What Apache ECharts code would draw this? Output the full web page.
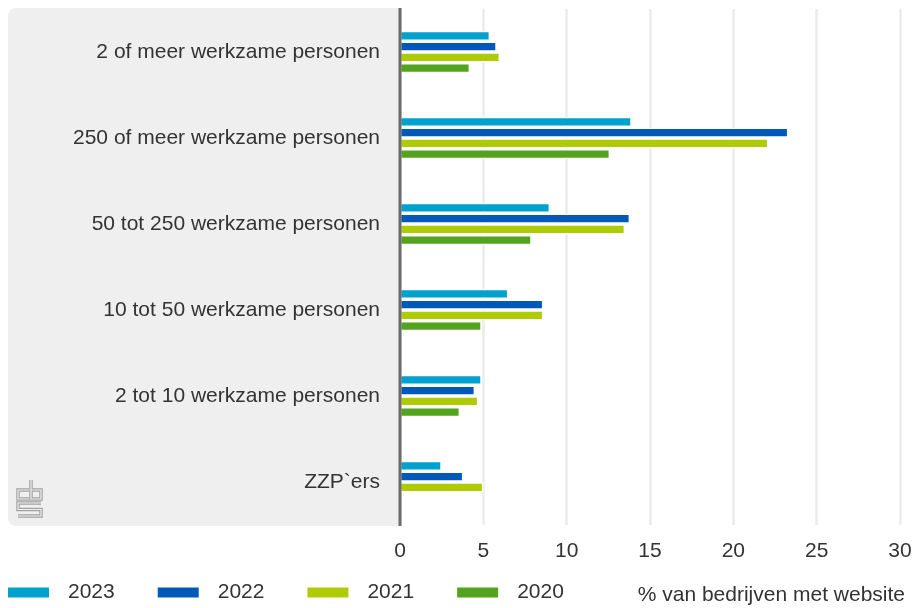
<!DOCTYPE html>
<html>
<head>
<meta charset="utf-8">
<script src="https://cdn.jsdelivr.net/npm/echarts@6/dist/echarts.min.js"></script>
<style>html,body{margin:0;padding:0;background:#fff}#c{width:917px;height:608px}</style>
</head>
<body>
<div id="c"></div>
<script>
var categories = ["2 of meer werkzame personen", "250 of meer werkzame personen", "50 tot 250 werkzame personen", "10 tot 50 werkzame personen", "2 tot 10 werkzame personen", "ZZP`ers"];
var seriesNames = ["2023", "2022", "2021", "2020"];
var v2023 = [5.4, 13.9, 9.0, 6.5, 4.9, 2.5];
var v2022 = [5.8, 23.3, 13.8, 8.6, 4.5, 3.8];
var v2021 = [6.0, 22.1, 13.5, 8.6, 4.7, 5.0];
var v2020 = [4.2, 12.6, 7.9, 4.9, 3.6, null];
var xTicks = [0, 5, 10, 15, 20, 25, 30];
var colors = ["#00a1cd", "#0058b8", "#afcb05", "#53a31d"];
var values = [v2023, v2022, v2021, v2020];

var FONT = "'Liberation Sans', Arial, sans-serif";
var FS = 21;
var chart = echarts.init(document.getElementById('c'), null, {renderer: 'canvas'});

var series = seriesNames.map(function (n, i) {
  return {
    name: n, type: 'bar', data: values[i],
    barWidth: 10, barGap: '7%',
    itemStyle: {color: colors[i], borderColor: '#ffffff', borderWidth: 1.4},
    z: 3
  };
});

var logoLines = [
  [[29, 490], [18, 490], [18, 499], [29, 499]],
  [[31, 480], [31, 499], [41, 499], [41, 490], [31, 490]],
  [[41, 503], [18, 503], [18, 509.5], [41, 509.5], [41, 516], [18, 516]]
];
var graphics = [
  {type: 'rect', z: -10, silent: true,
   shape: {x: 8, y: 8, width: 392, height: 518, r: [8, 0, 0, 8]},
   style: {fill: '#efefef'}},
  {type: 'line', z: 20, silent: true,
   shape: {x1: 400, y1: 8, x2: 400, y2: 526},
   style: {stroke: '#6b6b6b', lineWidth: 3}},
  {type: 'text', right: 12, top: 585, silent: true,
   style: {text: '% van bedrijven met website', fontSize: FS, fontFamily: FONT, fill: '#333333'}}
];
logoLines.forEach(function (pts) {
  graphics.push({type: 'polyline', z: -5, silent: true, shape: {points: pts},
    style: {fill: null, stroke: '#a3a3a3', lineWidth: 3.5}});
  graphics.push({type: 'polyline', z: -4, silent: true, shape: {points: pts},
    style: {fill: null, stroke: '#efefef', lineWidth: 1.2}});
});

chart.setOption({
  animation: false,
  textStyle: {fontFamily: FONT},
  grid: {left: 400, right: 17, top: 9, bottom: 83, containLabel: false},
  graphic: graphics,
  legend: {
    left: 6, top: 582, padding: 0,
    itemWidth: 43, itemHeight: 12, itemGap: 41,
    icon: 'rect',
    data: seriesNames,
    textStyle: {fontSize: FS, color: '#333333', padding: [0, 0, 0, 13], fontFamily: FONT}
  },
  xAxis: {
    type: 'value', min: 0, max: 30, interval: 5,
    axisLine: {show: false}, axisTick: {show: false},
    splitLine: {show: true, lineStyle: {color: '#ebebeb', width: 2.5}},
    axisLabel: {fontSize: FS, color: '#333333', margin: 16, fontFamily: FONT,
      formatter: function (v) { return xTicks.indexOf(v) >= 0 ? String(v) : ''; }}
  },
  yAxis: {
    type: 'category', data: categories, inverse: true,
    axisLine: {show: false}, axisTick: {show: false},
    axisLabel: {fontSize: FS, color: '#333333', margin: 20, fontFamily: FONT}
  },
  series: series
});
</script>
</body>
</html>
